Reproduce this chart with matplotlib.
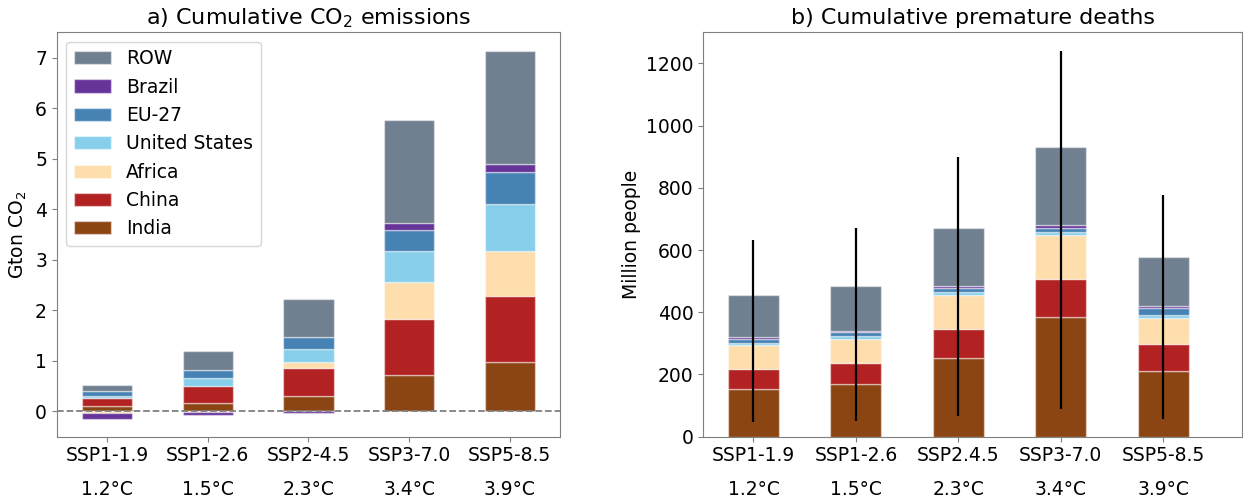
import matplotlib

matplotlib.use("Agg")
import matplotlib.pyplot as plt

# scenarios / warming levels
scenarios_a = ["SSP1-1.9", "SSP1-2.6", "SSP2-4.5", "SSP3-7.0", "SSP5-8.5"]
scenarios_b = ["SSP1-1.9", "SSP1-2.6", "SSP2.4.5", "SSP3-7.0", "SSP5-8.5"]
warming = ["1.2°C", "1.5°C", "2.3°C", "3.4°C", "3.9°C"]

# stacking order, bottom -> top
regions = ["India", "China", "Africa", "United States", "EU-27", "Brazil", "ROW"]
colors = ["saddlebrown", "firebrick", "navajowhite", "skyblue", "steelblue",
          "rebeccapurple", "slategray"]

# a) cumulative CO2 emissions (Gton CO2), per region
co2_india = [0.11, 0.17, 0.31, 0.72, 0.97]
co2_china = [0.15, 0.33, 0.54, 1.11, 1.32]
co2_africa = [-0.03, -0.01, 0.12, 0.74, 0.89]
co2_us = [0.05, 0.16, 0.27, 0.61, 0.93]
co2_eu = [0.10, 0.16, 0.24, 0.41, 0.62]
co2_brazil = [-0.12, -0.07, -0.04, 0.13, 0.16]
co2_row = [0.11, 0.37, 0.75, 2.04, 2.25]

# b) cumulative premature deaths (million people), per region
death_india = [152, 168, 254, 385, 211]
death_china = [66, 69, 91, 121, 88]
death_africa = [76, 77, 110, 142, 81]
death_us = [8, 10, 9, 11, 11]
death_eu = [12, 12, 15, 12, 23]
death_brazil = [5, 5, 5, 8, 7]
death_row = [135, 144, 186, 252, 157]
death_low = [48, 51, 66, 88, 57]
death_high = [631, 670, 898, 1240, 776]

co2 = [co2_india, co2_china, co2_africa, co2_us, co2_eu, co2_brazil, co2_row]
deaths = [death_india, death_china, death_africa, death_us, death_eu,
          death_brazil, death_row]

FS = 13.5
plt.rcParams["font.size"] = FS
edge = (1, 1, 1, 0.45)


def stacked(ax, series):
    x = range(len(series[0]))
    pos = [0.0] * len(series[0])
    neg = [0.0] * len(series[0])
    handles = []
    for name, vals, c in zip(regions, series, colors):
        bottoms = [p if v >= 0 else n for v, p, n in zip(vals, pos, neg)]
        h = ax.bar(x, vals, 0.5, bottom=bottoms, color=c, label=name,
                   edgecolor=edge, linewidth=1)
        handles.append(h)
        pos = [p + v if v >= 0 else p for v, p in zip(vals, pos)]
        neg = [n + v if v < 0 else n for v, n in zip(vals, neg)]
    return handles


def style(ax, labels):
    ax.set_xticks(range(len(labels)))
    ax.set_xticklabels([f"{s}\n{w}" for s, w in zip(labels, warming)],
                       linespacing=2.0)
    for sp in ax.spines.values():
        sp.set_color("#7f7f7f")
    ax.tick_params(colors="#7f7f7f", labelcolor="black", labelsize=FS)


fig = plt.figure(figsize=(12.43, 4.98), dpi=100)
ax1 = fig.add_axes([0.0456, 0.1231, 0.405, 0.812])
ax2 = fig.add_axes([0.5658, 0.1231, 0.4334, 0.812])

handles = stacked(ax1, co2)
ax1.axhline(0, color="gray", ls="--", lw=1.3)
ax1.set_xlim(-0.5, 4.5)
ax1.set_ylim(-0.5, 7.5)
ax1.set_ylabel("Gton CO$_2$")
ax1.set_title("a) Cumulative CO$_2$ emissions", fontsize=16)
style(ax1, scenarios_a)
ax1.legend(handles[::-1], regions[::-1], loc="upper left", fontsize=FS)

stacked(ax2, deaths)
ax2.vlines(range(len(death_low)), death_low, death_high, color="black", lw=1.6)
ax2.set_xlim(-0.49, 4.77)
ax2.set_ylim(0, 1300)
ax2.set_ylabel("Million people")
ax2.set_title("b) Cumulative premature deaths", fontsize=16)
style(ax2, scenarios_b)

fig.savefig("out.png", dpi=100)
